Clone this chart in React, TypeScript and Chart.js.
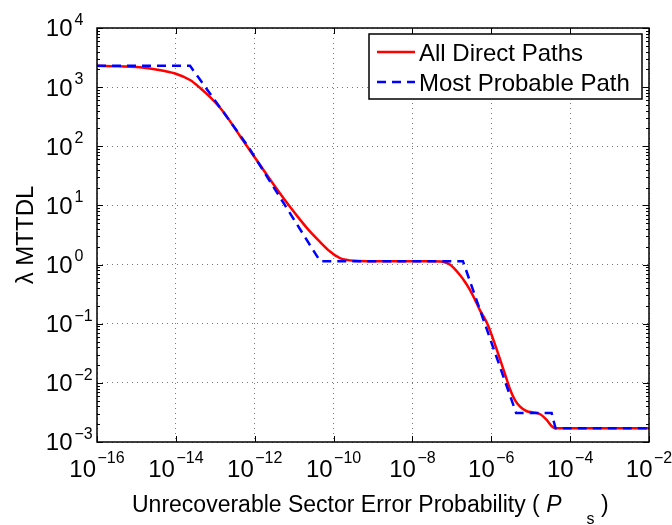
import { useEffect, useRef } from 'react';
import { Chart, registerables } from 'chart.js';

Chart.register(...registerables);

// Axis decades (exponents of 10)
const xTickExponents = [-16, -14, -12, -10, -8, -6, -4, -2];
const yTickExponents = [-3, -2, -1, 0, 1, 2, 3, 4];

// Series: All Direct Paths (solid red)
const allPathsPs = [
  1e-16, 3.16e-16, 1.23e-15, 3.16e-15, 9.55e-15, 2.29e-14, 4.07e-14, 7.41e-14,
  1.32e-13, 2.34e-13, 4.27e-13, 7.59e-13, 2.45e-12, 7.76e-12, 1.41e-11, 2.51e-11,
  4.57e-11, 8.13e-11, 1.45e-10, 3.47e-10, 1e-9, 1e-8, 3.16e-8, 5.89e-8, 8.91e-8,
  1.62e-7, 2.14e-7, 2.88e-7, 3.89e-7, 5.13e-7, 7.94e-7, 1.70e-6, 2.63e-6, 2.95e-6,
  3.98e-6, 5.37e-6, 7.94e-6, 1.17e-5, 1.74e-5, 2.57e-5, 3.39e-5, 4.17e-5, 1e-2,
];
const allPathsMttdl = [
  2291, 2265, 2163, 1995, 1698, 1318, 977, 676,
  447, 269, 148, 85.1, 27.5, 9.55, 5.75, 3.63,
  2.40, 1.66, 1.29, 1.16, 1.14, 1.14, 1.14, 1.12, 1.0,
  0.661, 0.513, 0.372, 0.251, 0.170, 0.100, 0.0240, 0.0100, 0.00794,
  0.00513, 0.00398, 0.00331, 0.00316, 0.00295, 0.00234, 0.00186, 0.00170, 0.00170,
];

// Series: Most Probable Path (dashed blue)
const probablePathPs = [1e-16, 2.29e-14, 6.76e-13, 5.89e-12, 4.57e-11, 1.91e-7, 4.27e-6, 3.39e-5, 4.27e-5, 1e-2];
const probablePathMttdl = [2291, 2291, 100, 10, 1.14, 1.14, 0.00309, 0.00309, 0.0017, 0.0017];

const seriesLabels = ['All Direct Paths', 'Most Probable Path'];
const yAxisTitle = 'λ MTTDL';
const xAxisTitleMain = 'Unrecoverable Sector Error Probability ( ';
const xAxisTitleVar = 'P';
const xAxisTitleSub = 's';
const xAxisTitleEnd = ' )';

const FONT = '"Liberation Sans", Arial, Helvetica, sans-serif';

const pow10 = (e: number) => Number('1e' + e);
const expText = (e: number) => (e < 0 ? '\u2212' + Math.abs(e) : String(e));

const decorPlugin = {
  id: 'decor',
  afterDraw(chart: any) {
    const { ctx, chartArea: a, scales } = chart;
    const xs = scales.x;
    const ys = scales.y;
    ctx.save();
    ctx.setLineDash([]);

    // Inward tick marks
    ctx.strokeStyle = '#000';
    ctx.lineWidth = 1;
    ctx.beginPath();
    xTickExponents.forEach((e) => {
      const px = Math.round(xs.getPixelForValue(pow10(e))) + 0.5;
      ctx.moveTo(px, a.bottom);
      ctx.lineTo(px, a.bottom - 6);
      ctx.moveTo(px, a.top);
      ctx.lineTo(px, a.top + 6);
    });
    yTickExponents.forEach((e, i) => {
      const py = Math.round(ys.getPixelForValue(pow10(e))) + 0.5;
      ctx.moveTo(a.left, py);
      ctx.lineTo(a.left + 6, py);
      ctx.moveTo(a.right, py);
      ctx.lineTo(a.right - 6, py);
      if (i < yTickExponents.length - 1) {
        for (let m = 2; m <= 9; m++) {
          const pm = Math.round(ys.getPixelForValue(m * pow10(e))) + 0.5;
          ctx.moveTo(a.left, pm);
          ctx.lineTo(a.left + 3, pm);
          ctx.moveTo(a.right, pm);
          ctx.lineTo(a.right - 3, pm);
        }
      }
    });
    ctx.stroke();

    // Box
    ctx.lineWidth = 1.5;
    ctx.strokeRect(a.left, a.top, a.right - a.left, a.bottom - a.top);

    ctx.fillStyle = '#000';
    // Y tick labels
    yTickExponents.forEach((e) => {
      const py = ys.getPixelForValue(pow10(e));
      ctx.font = '24px ' + FONT;
      ctx.textAlign = 'right';
      ctx.textBaseline = 'alphabetic';
      ctx.fillText('10', a.left - 24.5, py + 8.4);
      ctx.font = '16px ' + FONT;
      ctx.textAlign = 'left';
      ctx.fillText(expText(e), a.left - 22.5, py - 3.2);
    });

    // X tick labels (centered on tick)
    xTickExponents.forEach((e) => {
      const px = xs.getPixelForValue(pow10(e));
      ctx.font = '24px ' + FONT;
      const wb = ctx.measureText('10').width;
      ctx.font = '16px ' + FONT;
      const we = ctx.measureText(expText(e)).width;
      const total = wb + 1.5 + we;
      const x0 = px - total / 2;
      ctx.textAlign = 'left';
      ctx.textBaseline = 'alphabetic';
      ctx.font = '24px ' + FONT;
      ctx.fillText('10', x0, a.bottom + 35);
      ctx.font = '16px ' + FONT;
      ctx.fillText(expText(e), x0 + wb + 1.5, a.bottom + 21);
    });

    // Y axis title
    ctx.save();
    ctx.translate(33, (a.top + a.bottom) / 2);
    ctx.rotate(-Math.PI / 2);
    ctx.font = '24px ' + FONT;
    ctx.textAlign = 'center';
    ctx.textBaseline = 'alphabetic';
    ctx.fillText(yAxisTitle, 0, 0);
    ctx.restore();

    // X axis title
    const cx = (a.left + a.right) / 2;
    let tx = cx - 241;
    const ty = a.bottom + 70;
    ctx.textAlign = 'left';
    ctx.textBaseline = 'alphabetic';
    ctx.font = '23px ' + FONT;
    ctx.fillText(xAxisTitleMain, tx, ty);
    tx += ctx.measureText(xAxisTitleMain).width;
    ctx.font = 'italic 23px ' + FONT;
    ctx.fillText(xAxisTitleVar, tx, ty);
    tx += ctx.measureText(xAxisTitleVar).width + 25;
    ctx.font = '16px ' + FONT;
    ctx.fillText(xAxisTitleSub, tx, ty + 12);
    tx += ctx.measureText(xAxisTitleSub).width;
    ctx.font = '23px ' + FONT;
    ctx.fillText(xAxisTitleEnd, tx, ty);

    // Legend
    const lx0 = a.right - 7 - 273;
    const ly0 = a.top + 6;
    ctx.fillStyle = '#fff';
    ctx.fillRect(lx0, ly0, 273, 65);
    ctx.strokeStyle = '#000';
    ctx.lineWidth = 1.5;
    ctx.strokeRect(lx0, ly0, 273, 65);
    const ds = chart.data.datasets;
    [0, 1].forEach((i) => {
      const rowY = ly0 + 18 + i * 30;
      ctx.beginPath();
      ctx.strokeStyle = ds[i].borderColor;
      ctx.lineWidth = ds[i].borderWidth;
      ctx.setLineDash(ds[i].borderDash || []);
      ctx.moveTo(lx0 + 8, rowY);
      ctx.lineTo(lx0 + 46, rowY);
      ctx.stroke();
      ctx.setLineDash([]);
      ctx.fillStyle = '#000';
      ctx.font = '24px ' + FONT;
      ctx.textAlign = 'left';
      ctx.textBaseline = 'alphabetic';
      ctx.fillText(seriesLabels[i], lx0 + 50, rowY + 9);
    });

    ctx.restore();
  },
};

export default function App() {
  const canvasRef = useRef<HTMLCanvasElement | null>(null);

  useEffect(() => {
    const canvas = canvasRef.current;
    if (!canvas) return;
    const chart = new Chart(canvas, {
      type: 'line',
      data: {
        datasets: [
          {
            label: seriesLabels[0],
            data: allPathsPs.map((x, i) => ({ x, y: allPathsMttdl[i] })),
            borderColor: '#ff0000',
            borderWidth: 2.5,
            cubicInterpolationMode: 'monotone',
            borderCapStyle: 'butt',
            pointRadius: 0,
            fill: false,
            order: 2,
          },
          {
            label: seriesLabels[1],
            data: probablePathPs.map((x, i) => ({ x, y: probablePathMttdl[i] })),
            borderColor: '#0000ff',
            borderWidth: 2.5,
            borderDash: [9, 6],
            tension: 0,
            borderCapStyle: 'butt',
            pointRadius: 0,
            fill: false,
            order: 1,
          },
        ],
      },
      options: {
        animation: false,
        responsive: false,
        layout: { padding: { top: 28, right: 23, left: 0, bottom: 0 } },
        plugins: { legend: { display: false }, tooltip: { enabled: false } },
        scales: {
          x: {
            type: 'logarithmic',
            min: 1e-16,
            max: 1e-2,
            afterBuildTicks: (s: any) => {
              s.ticks = xTickExponents.map((e) => ({ value: pow10(e) }));
            },
            afterFit: (s: any) => {
              s.height = 83;
            },
            ticks: { display: false },
            grid: { color: '#7a7a7a', lineWidth: 1, drawTicks: false },
            border: { display: false, dash: [1, 4] },
          },
          y: {
            type: 'logarithmic',
            min: 1e-3,
            max: 1e4,
            afterBuildTicks: (s: any) => {
              s.ticks = yTickExponents.map((e) => ({ value: pow10(e) }));
            },
            afterFit: (s: any) => {
              s.width = 97;
            },
            ticks: { display: false },
            grid: { color: '#7a7a7a', lineWidth: 1, drawTicks: false },
            border: { display: false, dash: [1, 4] },
          },
        },
      } as any,
      plugins: [decorPlugin],
    });
    return () => chart.destroy();
  }, []);

  return (
    <canvas
      ref={canvasRef}
      width={672}
      height={525}
      style={{ position: 'fixed', left: 0, top: 0, display: 'block', background: '#fff' }}
    />
  );
}
